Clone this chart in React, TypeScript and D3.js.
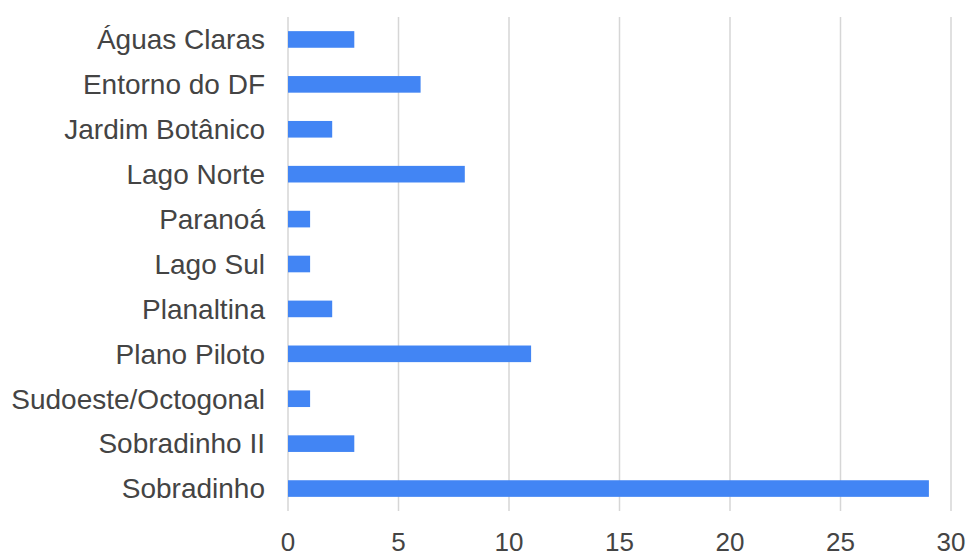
import React from "react";
import * as d3 from "d3";

const categories = [
  "Águas Claras",
  "Entorno do DF",
  "Jardim Botânico",
  "Lago Norte",
  "Paranoá",
  "Lago Sul",
  "Planaltina",
  "Plano Piloto",
  "Sudoeste/Octogonal",
  "Sobradinho II",
  "Sobradinho",
];
const values = [3, 6, 2, 8, 1, 1, 2, 11, 1, 3, 29];
const ticks = [0, 5, 10, 15, 20, 25, 30];

export default function App() {
  const W = 969;
  const H = 556;
  const x = d3.scaleLinear().domain([0, 30]).range([288, 951]);
  const y = d3.scaleBand<string>().domain(categories).range([17, 511]).paddingInner(0.63).paddingOuter(0.315);
  const font = "Arial, 'Liberation Sans', sans-serif";
  return (
    <svg width={W} height={H} style={{ position: "absolute", left: 0, top: 0, background: "#fff" }}>
      {ticks.map((t) => (
        <g key={t}>
          <line x1={x(t)} x2={x(t)} y1={17} y2={511} stroke="#d6d6d6" strokeWidth={1.5} />
          <text x={x(t)} y={551} textAnchor="middle" fontFamily={font} fontSize={26} fill="#444">
            {t}
          </text>
        </g>
      ))}
      {categories.map((c, i) => (
        <g key={c}>
          <rect x={x(0)} y={y(c)} width={x(values[i]) - x(0)} height={y.bandwidth()} fill="#4285f4" />
          <text
            x={265}
            y={(y(c) as number) + y.bandwidth() / 2}
            dy="0.35em"
            textAnchor="end"
            fontFamily={font}
            fontSize={28}
            fill="#444"
          >
            {c}
          </text>
        </g>
      ))}
    </svg>
  );
}
